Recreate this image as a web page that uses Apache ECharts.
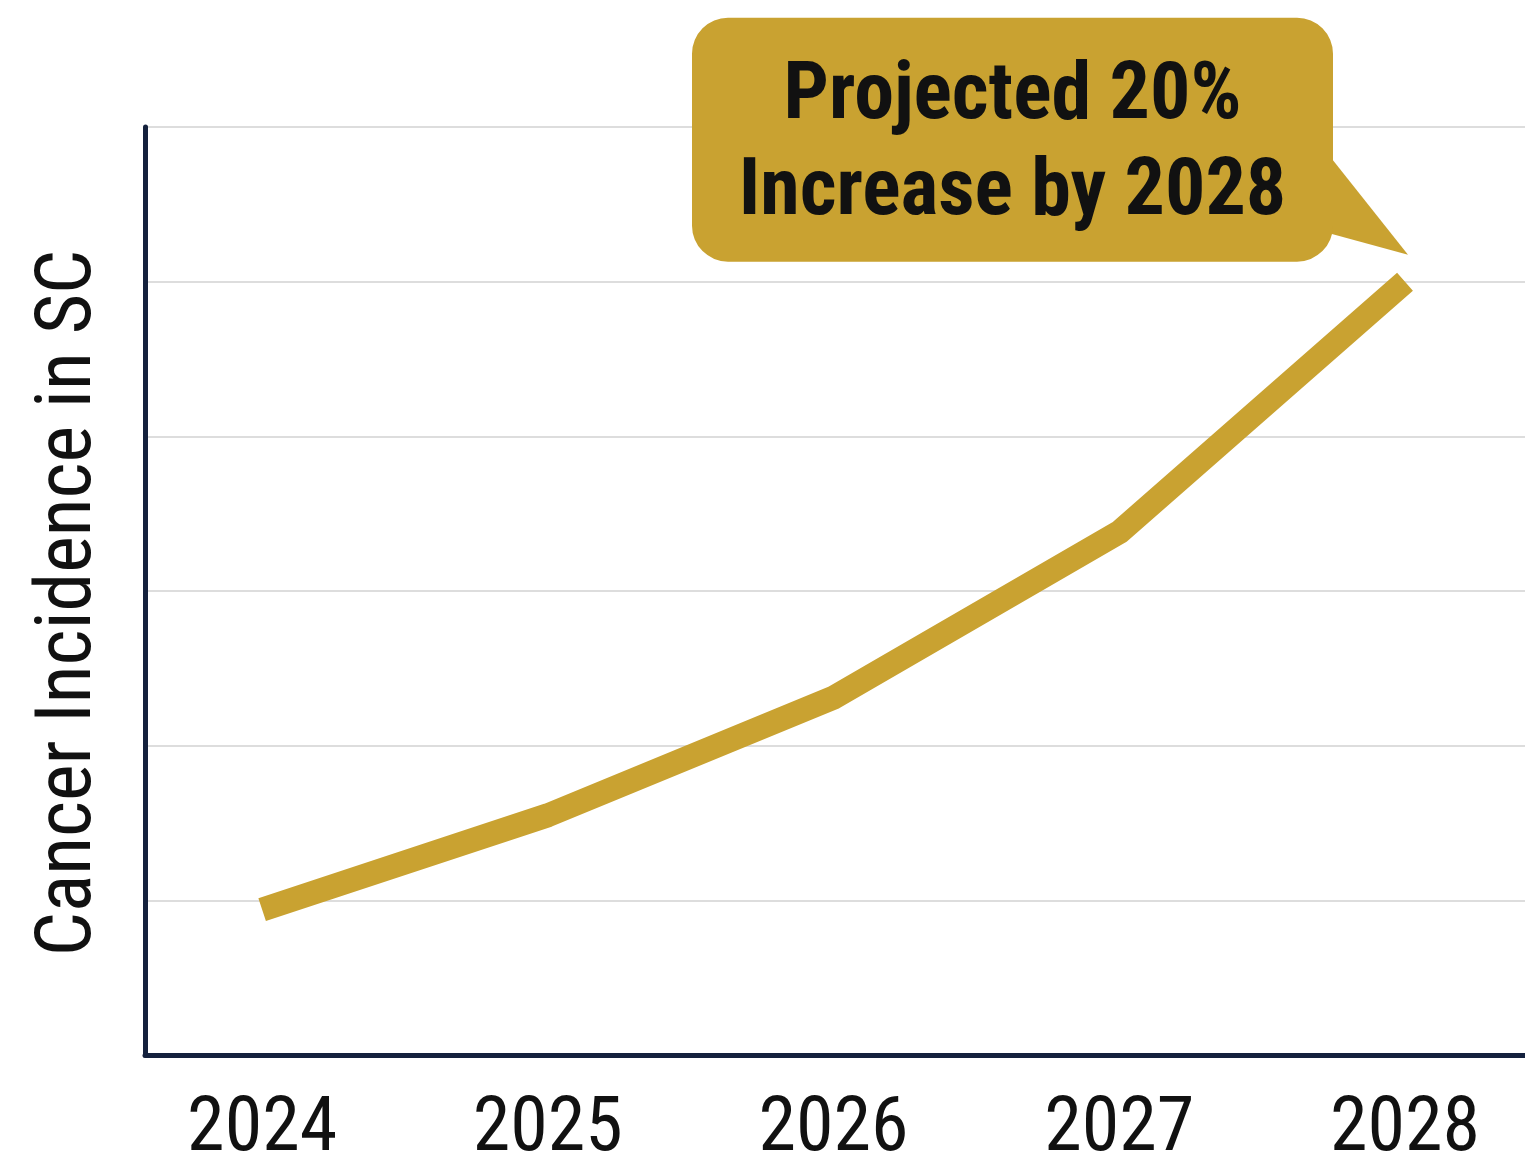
<!DOCTYPE html>
<html>
<head>
<meta charset="utf-8">
<script src="https://cdn.jsdelivr.net/npm/echarts@6/dist/echarts.min.js"></script>
<style>
html,body{margin:0;padding:0;background:#fff;}
#chart{width:1525px;height:1156px;}
</style>
</head>
<body>
<div id="chart"></div>
<script>
const years = [2024, 2025, 2026, 2027, 2028];
const incidence = [0.94, 1.55, 2.31, 3.38, 5.0];
const yAxisTitle = 'Cancer Incidence in SC';
const calloutLines = ['Projected 20%', 'Increase by 2028'];

const GOLD = '#c9a231';
const NAVY = '#14213d';
const COND = '"Roboto Condensed","Liberation Sans Narrow","DejaVu Sans Condensed","Roboto",sans-serif';

const chart = echarts.init(document.getElementById('chart'));
chart.setOption({
  backgroundColor: '#ffffff',
  animation: false,
  grid: { left: 145, right: 0, top: 127, bottom: 101, outerBoundsMode: 'none', containLabel: false },
  xAxis: {
    type: 'value',
    min: 2023.59,
    max: 2028.42,
    splitLine: { show: false },
    axisLine: { show: true, lineStyle: { color: NAVY, width: 5 } },
    axisTick: { show: false },
    axisLabel: {
      customValues: years,
      formatter: v => String(v),
      fontFamily: COND,
      fontSize: 76,
      color: '#111',
      margin: 38
    }
  },
  yAxis: {
    type: 'value',
    min: 0,
    max: 6,
    interval: 1,
    name: yAxisTitle,
    nameLocation: 'middle',
    nameRotate: 90,
    nameGap: 36,
    nameTextStyle: { fontFamily: COND, fontSize: 78, color: '#111', padding: [0, 24, 0, 0] },
    axisLine: { show: true, lineStyle: { color: NAVY, width: 5 } },
    axisTick: { show: false },
    axisLabel: { show: false },
    splitLine: { show: true, lineStyle: { color: '#dddddd', width: 2 } }
  },
  series: [{
    type: 'line',
    data: years.map((y, i) => [y, incidence[i]]),
    symbol: 'none',
    lineStyle: { color: GOLD, width: 24, cap: 'butt', join: 'round' },
    z: 3
  }]
});

const tip = chart.convertToPixel({ gridIndex: 0 }, [years[4], incidence[4]]);
const bx = tip[0] - 713, by = tip[1] - 264, bw = 641, bh = 244;
chart.setOption({
  graphic: [
    {
      type: 'polygon',
      z: 10,
      shape: { points: [[bx + bw - 2, tip[1] - 124], [tip[0] + 3, tip[1] - 27], [bx + bw - 2, tip[1] - 48]] },
      style: { fill: GOLD }
    },
    {
      type: 'rect',
      z: 10,
      shape: { x: bx, y: by, width: bw, height: bh, r: 36 },
      style: { fill: GOLD }
    },
    {
      type: 'text',
      z: 11,
      x: bx + bw / 2,
      y: by + bh / 2 + 6,
      style: {
        text: calloutLines.join('\n'),
        font: 'bold 80px ' + COND,
        fill: '#111',
        align: 'center',
        verticalAlign: 'middle',
        lineHeight: 96
      }
    }
  ]
});
</script>
</body>
</html>
